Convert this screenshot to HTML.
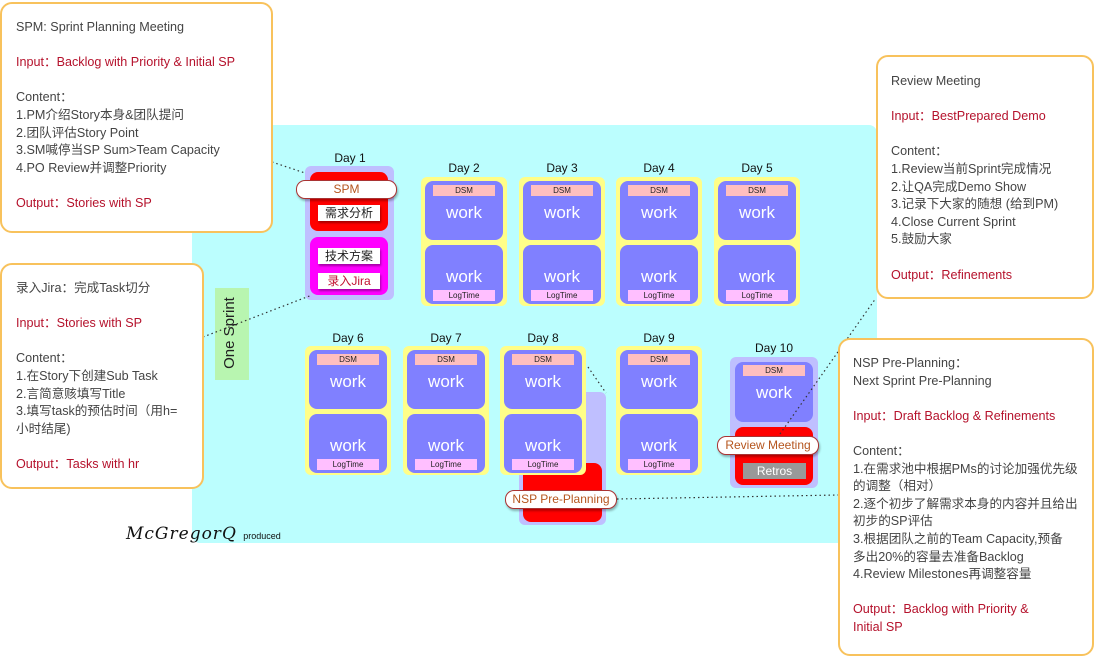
<!DOCTYPE html>
<html><head><meta charset="utf-8"><style>
*{margin:0;padding:0;box-sizing:border-box}
body{width:1094px;height:656px;background:#fff;position:relative;overflow:hidden;font-family:"Liberation Sans","Noto Sans CJK SC",sans-serif}
.a{position:absolute}
.bg{left:192px;top:125px;width:685px;height:418px;background:#bbfefe;border-radius:8px}
.yel{position:absolute;width:86px;height:129px;background:#fffe88;border-radius:6px}
.cell{position:absolute;left:4px;width:78px;height:59px;background:#8080ff;border-radius:8px;color:#fff;font-size:17px;text-align:center}
.dsm{position:absolute;left:8px;width:62px;height:11px;background:#ffbfbf;color:#222;font-size:8px;line-height:11px;text-align:center}
.lt{position:absolute;left:8px;width:62px;height:11px;background:#ffbfff;color:#222;font-size:8px;line-height:11px;text-align:center}
.day{position:absolute;font-size:12px;color:#111;width:86px;text-align:center}
.call{position:absolute;background:#fff;border:2px solid #f8c25c;border-radius:12px;font-size:12.6px;color:#444;line-height:17.6px;padding:0}
.call div{white-space:nowrap}
.r{color:#b5122c}
.lbl{position:absolute;background:#fff;border:1px solid #a33;border-radius:9px;color:#b5551e;font-size:12px;text-align:center;line-height:17px;box-shadow:1px 2px 2px rgba(0,0,0,.3)}
.wl{position:absolute;background:#fff;color:#222;font-size:12px;text-align:center;line-height:16px;box-shadow:1px 2px 2px rgba(0,0,0,.35)}
</style></head><body>
<div class="a bg"></div>
<div class="a" style="left:215px;top:288px;width:34px;height:92px;background:#b8f5b0"></div>
<div class="a" style="left:195px;top:322px;width:74px;height:22px;transform:rotate(-90deg);font-size:15px;text-align:center;color:#222">One Sprint</div>
<div class="a" style="left:126px;top:524px;font-family:'DejaVu Serif',serif;font-style:italic;font-size:17px;color:#111;letter-spacing:1px">McGregorQ <span style="font-size:9px;font-style:normal;font-family:'Liberation Sans',sans-serif;letter-spacing:0">produced</span></div>

<!-- Day1 -->
<div class="day" style="left:307px;top:151px">Day 1</div>
<div class="a" style="left:305px;top:166px;width:89px;height:134px;background:#bfbfff;border-radius:6px"></div>
<div class="a" style="left:310px;top:172px;width:78px;height:59px;background:#ff0000;border-radius:8px"></div>
<div class="a" style="left:310px;top:237px;width:78px;height:58px;background:#ff00ff;border-radius:8px"></div>
<div class="lbl" style="left:296px;top:180px;width:101px;height:19px">SPM</div>
<div class="wl" style="left:318px;top:205px;width:62px;height:16px">需求分析</div>
<div class="wl" style="left:318px;top:248px;width:62px;height:16px">技术方案</div>
<div class="wl" style="left:318px;top:273px;width:62px;height:16px;color:#c01030">录入Jira</div>

<!-- Row1 -->
<div class="day" style="left:421px;top:161px">Day 2</div>
<div class="yel" style="left:421px;top:177px"><div class="cell" style="top:4px;line-height:64px"><div class="dsm" style="top:4px">DSM</div>work</div><div class="cell" style="top:68px;line-height:64px">work<div class="lt" style="top:45px">LogTime</div></div></div>
<div class="day" style="left:519px;top:161px">Day 3</div>
<div class="yel" style="left:519px;top:177px"><div class="cell" style="top:4px;line-height:64px"><div class="dsm" style="top:4px">DSM</div>work</div><div class="cell" style="top:68px;line-height:64px">work<div class="lt" style="top:45px">LogTime</div></div></div>
<div class="day" style="left:616px;top:161px">Day 4</div>
<div class="yel" style="left:616px;top:177px"><div class="cell" style="top:4px;line-height:64px"><div class="dsm" style="top:4px">DSM</div>work</div><div class="cell" style="top:68px;line-height:64px">work<div class="lt" style="top:45px">LogTime</div></div></div>
<div class="day" style="left:714px;top:161px">Day 5</div>
<div class="yel" style="left:714px;top:177px"><div class="cell" style="top:4px;line-height:64px"><div class="dsm" style="top:4px">DSM</div>work</div><div class="cell" style="top:68px;line-height:64px">work<div class="lt" style="top:45px">LogTime</div></div></div>

<!-- Day8 extra -->
<div class="a" style="left:519px;top:392px;width:87px;height:133px;background:#bfbfff;border-radius:6px"></div>
<div class="a" style="left:523px;top:463px;width:79px;height:59px;background:#ff0000;border-radius:8px"></div>

<!-- Row2 -->
<div class="day" style="left:305px;top:331px">Day 6</div>
<div class="yel" style="left:305px;top:346px"><div class="cell" style="top:4px;line-height:64px"><div class="dsm" style="top:4px">DSM</div>work</div><div class="cell" style="top:68px;line-height:64px">work<div class="lt" style="top:45px">LogTime</div></div></div>
<div class="day" style="left:403px;top:331px">Day 7</div>
<div class="yel" style="left:403px;top:346px"><div class="cell" style="top:4px;line-height:64px"><div class="dsm" style="top:4px">DSM</div>work</div><div class="cell" style="top:68px;line-height:64px">work<div class="lt" style="top:45px">LogTime</div></div></div>
<div class="day" style="left:500px;top:331px">Day 8</div>
<div class="yel" style="left:500px;top:346px"><div class="cell" style="top:4px;line-height:64px"><div class="dsm" style="top:4px">DSM</div>work</div><div class="cell" style="top:68px;line-height:64px">work<div class="lt" style="top:45px">LogTime</div></div></div>
<div class="day" style="left:616px;top:331px">Day 9</div>
<div class="yel" style="left:616px;top:346px"><div class="cell" style="top:4px;line-height:64px"><div class="dsm" style="top:4px">DSM</div>work</div><div class="cell" style="top:68px;line-height:64px">work<div class="lt" style="top:45px">LogTime</div></div></div>

<!-- Day10 -->
<div class="day" style="left:731px;top:341px">Day 10</div>
<div class="a" style="left:730px;top:357px;width:88px;height:131px;background:#bfbfff;border-radius:6px"></div>
<div class="cell" style="left:735px;top:362px;height:60px;line-height:62px"><div class="dsm" style="top:3px">DSM</div>work</div>
<div class="a" style="left:735px;top:427px;width:78px;height:58px;background:#ff0000;border-radius:8px"></div>
<div class="a" style="left:743px;top:463px;width:63px;height:16px;background:#999;color:#fff;font-size:12px;text-align:center;line-height:16px">Retros</div>

<svg class="a" style="left:0;top:0" width="1094" height="656">
<g stroke="#333" stroke-width="1.2" stroke-dasharray="1.5,3" fill="none">
<line x1="272" y1="162" x2="305" y2="173"/>
<line x1="203" y1="337" x2="312" y2="295"/>
<line x1="588" y1="367" x2="606" y2="393"/>
<line x1="780" y1="434" x2="876" y2="298"/>
<line x1="617" y1="499" x2="838" y2="495"/>
</g></svg>
<div class="lbl" style="left:505px;top:490px;width:112px;height:19px">NSP Pre-Planning</div>
<div class="lbl" style="left:717px;top:436px;width:102px;height:19px">Review Meeting</div>

<!-- callouts -->
<div class="call" style="left:0;top:2px;width:273px;height:231px;padding:15px 0 0 14px">
<div>SPM: Sprint Planning Meeting</div><div>&nbsp;</div>
<div class="r">Input：Backlog with Priority &amp; Initial SP</div><div>&nbsp;</div>
<div>Content：</div><div>1.PM介绍Story本身&amp;团队提问</div><div>2.团队评估Story Point</div><div>3.SM喊停当SP Sum&gt;Team Capacity</div><div>4.PO Review并调整Priority</div><div>&nbsp;</div>
<div class="r">Output：Stories with SP</div></div>

<div class="call" style="left:0;top:263px;width:204px;height:226px;padding:15px 0 0 14px">
<div>录入Jira：完成Task切分</div><div>&nbsp;</div>
<div class="r">Input：Stories with SP</div><div>&nbsp;</div>
<div>Content：</div><div>1.在Story下创建Sub Task</div><div>2.言简意赅填写Title</div><div>3.填写task的预估时间（用h=</div><div>小时结尾)</div><div>&nbsp;</div>
<div class="r">Output：Tasks with hr</div></div>

<div class="call" style="left:876px;top:55px;width:218px;height:244px;padding:16px 0 0 13px">
<div>Review Meeting</div><div>&nbsp;</div>
<div class="r">Input：BestPrepared Demo</div><div>&nbsp;</div>
<div>Content：</div><div>1.Review当前Sprint完成情况</div><div>2.让QA完成Demo Show</div><div>3.记录下大家的随想 (给到PM)</div><div>4.Close Current Sprint</div><div>5.鼓励大家</div><div>&nbsp;</div>
<div class="r">Output：Refinements</div></div>

<div class="call" style="left:838px;top:338px;width:256px;height:318px;padding:15px 0 0 13px">
<div>NSP Pre-Planning：</div><div>Next Sprint Pre-Planning</div><div>&nbsp;</div>
<div class="r">Input：Draft Backlog &amp; Refinements</div><div>&nbsp;</div>
<div>Content：</div><div>1.在需求池中根据PMs的讨论加强优先级</div><div>的调整（相对）</div><div>2.逐个初步了解需求本身的内容并且给出</div><div>初步的SP评估</div><div>3.根据团队之前的Team Capacity,预备</div><div>多出20%的容量去准备Backlog</div><div>4.Review Milestones再调整容量</div><div>&nbsp;</div>
<div class="r">Output：Backlog with Priority &amp;</div><div class="r">Initial SP</div></div>
</body></html>
